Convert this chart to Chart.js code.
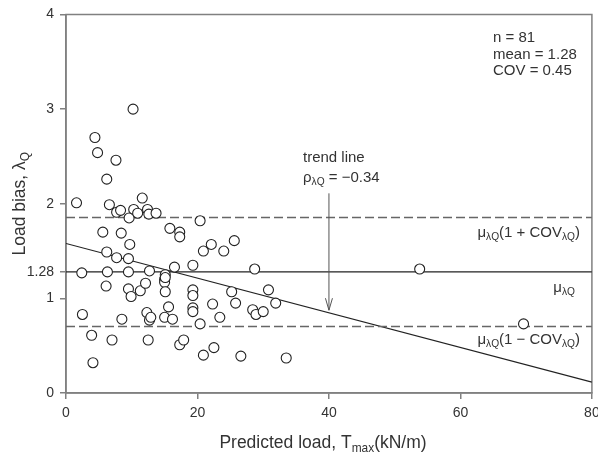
<!DOCTYPE html>
<html>
<head>
<meta charset="utf-8">
<script src="https://cdn.jsdelivr.net/npm/chart.js@4.4.1/dist/chart.umd.min.js"></script>
<style>
  html, body { margin: 0; padding: 0; background: #fff; }
  #wrap { width: 598px; height: 459px; }
</style>
</head>
<body>
<div id="wrap"><canvas id="chartLoadBias"></canvas></div>
<script>
// predicted load T_max (kN/m) and measured load bias for each case
var loadT = [
  1.6, 4.4, 4.8, 10.2, 7.6, 6.2, 6.6, 7.7, 8.3, 9.6,
  10.3, 10.9, 11.6, 12.4, 12.6, 13.7, 20.4, 15.8, 17.3, 17.3,
  5.6, 8.4, 9.7, 6.2, 7.7, 9.5, 2.4, 6.3, 9.5, 12.7,
  6.1, 9.5, 9.9, 11.3, 12.1, 2.5, 3.9, 4.1, 7.0, 8.5,
  12.3, 12.7, 12.9, 12.5, 15.1, 15.0, 15.0, 15.1, 15.6, 15.0,
  16.2, 16.5, 19.3, 19.3, 19.3, 19.3, 19.3, 17.3, 17.9, 20.4,
  20.9, 22.5, 20.9, 22.1, 24.0, 25.6, 22.3, 23.4, 25.2, 25.8,
  26.6, 28.7, 28.4, 28.9, 30.0, 30.8, 31.9, 33.5, 53.8, 69.6,
  15.1
]
var loadBias = [
  2.01, 2.70, 2.54, 3.00, 2.46, 2.26, 1.99, 1.91, 1.93, 1.85,
  1.94, 1.90, 2.06, 1.94, 1.89, 1.90, 1.82, 1.74, 1.70, 1.65,
  1.70, 1.69, 1.57, 1.49, 1.43, 1.42, 1.27, 1.28, 1.28, 1.29,
  1.13, 1.10, 1.02, 1.08, 1.16, 0.83, 0.61, 0.32, 0.56, 0.78,
  0.85, 0.77, 0.80, 0.56, 1.25, 1.20, 1.17, 1.07, 0.91, 0.80,
  0.78, 1.33, 1.35, 1.09, 1.03, 0.90, 0.86, 0.51, 0.56, 0.73,
  0.40, 0.48, 1.50, 1.57, 1.50, 1.61, 0.94, 0.80, 1.07, 0.95,
  0.39, 1.31, 0.88, 0.83, 0.86, 1.09, 0.95, 0.37, 1.31, 0.73,
  1.22
]
var xTicks = [0, 20, 40, 60, 80]
var yTicks = [0, 1, 1.28, 2, 3, 4]
var biasMean = 1.28
var biasCov = 0.45
var trendX = [0, 80]
var trendY = [1.58, 0.115]
var arrowX = 40
var arrowY = [2.11, 0.875]

var fontFamily = '"Liberation Sans", Arial, sans-serif'
var textColor = '#333'
var axisColor = '#808080'

function hLine(v) {
  return [{ x: trendX[0], y: v }, { x: trendX[1], y: v }]
}

// text with subscripts: parts = [[text, isSub], ...]
function drawRich(ctx, parts, x, y, size, align) {
  var w = 0
  parts.forEach(function (p) {
    ctx.font = (p[1] ? size * 0.68 : size) + 'px ' + fontFamily
    w += ctx.measureText(p[0]).width
  })
  var cx = align === 'right' ? x - w : align === 'center' ? x - w / 2 : x
  ctx.textAlign = 'left'
  ctx.textBaseline = 'middle'
  parts.forEach(function (p) {
    ctx.font = (p[1] ? size * 0.68 : size) + 'px ' + fontFamily
    ctx.fillText(p[0], cx, p[1] ? y + size * 0.3 : y)
    cx += ctx.measureText(p[0]).width
  })
}

var framePlugin = {
  id: 'frame',
  beforeDatasetsDraw: function (chart) {
    var a = chart.chartArea, ctx = chart.ctx
    ctx.save()
    ctx.strokeStyle = axisColor
    ctx.lineWidth = 1.5
    ctx.strokeRect(a.left, a.top, a.right - a.left, a.bottom - a.top)
    ctx.restore()
  }
}

var notesPlugin = {
  id: 'notes',
  afterDraw: function (chart) {
    var ctx = chart.ctx, xs = chart.scales.x, ys = chart.scales.y, a = chart.chartArea
    ctx.save()
    ctx.fillStyle = textColor

    drawRich(ctx, [['n = 81']], 493, 38, 15, 'left')
    drawRich(ctx, [['mean = 1.28']], 493, 55, 15, 'left')
    drawRich(ctx, [['COV = 0.45']], 493, 71, 15, 'left')

    drawRich(ctx, [['trend line']], 303, 158, 15, 'left')
    drawRich(ctx, [['\u03C1'], ['\u03BBQ', true], [' = \u22120.34']], 303, 178, 15, 'left')

    drawRich(ctx, [['\u03BC'], ['\u03BBQ', true], ['(1 + COV'], ['\u03BBQ', true], [')']], 580, 233, 15, 'right')
    drawRich(ctx, [['\u03BC'], ['\u03BBQ', true]], 575, 288, 15, 'right')
    drawRich(ctx, [['\u03BC'], ['\u03BBQ', true], ['(1 \u2212 COV'], ['\u03BBQ', true], [')']], 580, 340, 15, 'right')

    // arrow from the label down to the trend line
    var ax = xs.getPixelForValue(arrowX)
    var y0 = ys.getPixelForValue(arrowY[0]), y1 = ys.getPixelForValue(arrowY[1])
    ctx.strokeStyle = '#555'
    ctx.lineWidth = 1
    ctx.beginPath()
    ctx.moveTo(ax, y0)
    ctx.lineTo(ax, y1)
    ctx.moveTo(ax - 3.5, y1 - 12)
    ctx.lineTo(ax, y1)
    ctx.lineTo(ax + 3.5, y1 - 12)
    ctx.stroke()

    // axis titles
    drawRich(ctx, [['Predicted load, T'], ['max', true], ['(kN/m)']], 323, 443, 17.5, 'center')
    ctx.translate(20, (a.top + a.bottom) / 2)
    ctx.rotate(-Math.PI / 2)
    drawRich(ctx, [['Load bias, \u03BB'], ['Q', true]], 0, 0, 17.5, 'center')
    ctx.restore()
  }
}

var ctxLoad = document.getElementById('chartLoadBias').getContext('2d')

new Chart(ctxLoad, {
  type: 'scatter',
  data: {
    datasets: [
      {
        data: loadT.map(function (x, i) { return { x: x, y: loadBias[i] } }),
        pointRadius: 5,
        pointHoverRadius: 5,
        pointBorderWidth: 1.1,
        pointBorderColor: '#222',
        pointBackgroundColor: '#fff',
        showLine: false
      },
      {
        data: hLine(biasMean),
        showLine: true, borderColor: '#222', borderWidth: 1.2, pointRadius: 0
      },
      {
        data: hLine(biasMean * (1 + biasCov)),
        showLine: true, borderColor: '#666', borderWidth: 1.5, borderDash: [9, 4], pointRadius: 0
      },
      {
        data: hLine(biasMean * (1 - biasCov)),
        showLine: true, borderColor: '#666', borderWidth: 1.5, borderDash: [9, 4], pointRadius: 0
      },
      {
        data: [{ x: trendX[0], y: trendY[0] }, { x: trendX[1], y: trendY[1] }],
        showLine: true, borderColor: '#222', borderWidth: 1.2, pointRadius: 0
      }
    ]
  },
  options: {
    responsive: true,
    maintainAspectRatio: false,
    animation: false,
    layout: { padding: { top: 14.5, right: 6, left: 0, bottom: 0 } },
    plugins: { legend: { display: false }, tooltip: { enabled: false } },
    scales: {
      x: {
        type: 'linear', min: 0, max: 80,
        afterBuildTicks: function (s) { s.ticks = xTicks.map(function (v) { return { value: v } }) },
        afterFit: function (s) { s.height = 66; s.paddingRight = 0; s.paddingLeft = 0 },
        grid: { drawOnChartArea: false, drawTicks: true, tickLength: 6, color: axisColor, lineWidth: 1.5 },
        border: { color: axisColor, width: 1.5 },
        ticks: { color: textColor, padding: 6, maxRotation: 0, font: { family: fontFamily, size: 14 } }
      },
      y: {
        type: 'linear', min: 0, max: 4,
        afterBuildTicks: function (s) { s.ticks = yTicks.map(function (v) { return { value: v } }) },
        afterFit: function (s) { s.width = 66; s.paddingTop = 0; s.paddingBottom = 0 },
        grid: { drawOnChartArea: false, drawTicks: true, tickLength: 6, color: axisColor, lineWidth: 1.5 },
        border: { color: axisColor, width: 1.5 },
        ticks: {
          color: textColor, padding: 6, font: { family: fontFamily, size: 14 },
          callback: function (v) { return v === 1.28 ? '1.28' : String(v) }
        }
      }
    }
  },
  plugins: [framePlugin, notesPlugin]
})
</script>
</body>
</html>
